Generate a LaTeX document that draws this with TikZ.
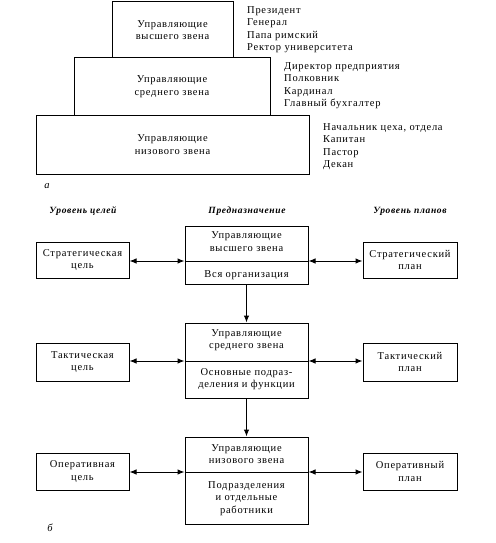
\documentclass[tikz,border=0pt]{standalone}
\usepackage{fontspec}
\setmainfont[LetterSpace=7]{Liberation Serif}
\usetikzlibrary{arrows.meta}
\newcommand{\txtsz}{\fontsize{10.5}{12.5}\selectfont}
\newcommand{\hdsz}{\fontsize{9.5}{11}\selectfont\bfseries\itshape}
\begin{document}
\begin{tikzpicture}[x=1pt,y=-1pt,
  box/.style={draw, line width=1pt, inner sep=0pt, align=center, font=\txtsz},
  txt/.style={inner sep=0pt, align=center, font=\txtsz},
  lst/.style={inner sep=0pt, align=left, font=\txtsz, anchor=north west},
  hdr/.style={inner sep=0pt, font=\hdsz},
  conn/.style={line width=1pt},
  >={Latex[length=7pt,width=5.5pt]}]
\useasboundingbox (0,0) rectangle (495,543);
% ---- part a: pyramid
\node[box, minimum width=121pt, minimum height=56pt] (p1) at (172.5,30) {Управляющие\\высшего звена};
\node[box, minimum width=196pt, minimum height=57pt] (p2) at (172,86.5) {Управляющие\\среднего звена};
\node[box, minimum width=273pt, minimum height=59pt] (p3) at (172.5,144.5) {Управляющие\\низового звена};
\node[lst] (l1) at (247,6) {Президент\\Генерал\\Папа римский\\Ректор университета};
\node[lst] (l2) at (284,62) {Директор предприятия\\Полковник\\Кардинал\\Главный бухгалтер};
\node[lst] (l3) at (323,123) {Начальник цеха, отдела\\Капитан\\Пастор\\Декан};
\node[txt, font=\txtsz\itshape] (la) at (47,186) {а};
% ---- part b
\node[hdr] (h1) at (83,211) {Уровень целей};
\node[hdr] (h2) at (247,211) {Предназначение};
\node[hdr] (h3) at (410,211) {Уровень планов};
% left column
\node[box, minimum width=93pt, minimum height=36pt] (g1) at (82.5,260) {Стратегическая\\цель};
\node[box, minimum width=93pt, minimum height=38pt] (g2) at (82.5,362) {Тактическая\\цель};
\node[box, minimum width=93pt, minimum height=37pt] (g3) at (82.5,471.5) {Оперативная\\цель};
% right column
\node[box, minimum width=94pt, minimum height=36pt] (r1) at (410,260) {Стратегический\\план};
\node[box, minimum width=94pt, minimum height=38pt] (r2) at (410,362) {Тактический\\план};
\node[box, minimum width=94pt, minimum height=37pt] (r3) at (410,471.5) {Оперативный\\план};
% center column
\node[box, minimum width=123pt, minimum height=58pt] (c1) at (246.5,255) {};
\node[box, minimum width=123pt, minimum height=75pt] (c2) at (246.5,360.5) {};
\node[box, minimum width=123pt, minimum height=87pt] (c3) at (246.5,480.5) {};
\coordinate (d1) at (246.5,261);
\coordinate (d2) at (246.5,361);
\coordinate (d3) at (246.5,472);
\draw[conn] (c1.west |- d1) -- (c1.east |- d1);
\draw[conn] (c2.west |- d2) -- (c2.east |- d2);
\draw[conn] (c3.west |- d3) -- (c3.east |- d3);
\node[txt] (t1a) at (246.5,241.5) {Управляющие\\высшего звена};
\node[txt] (t1b) at (246.5,275) {Вся организация};
\node[txt] (t2a) at (246.5,340) {Управляющие\\среднего звена};
\node[txt] (t2b) at (246.5,379) {Основные подраз-\\деления и функции};
\node[txt] (t3a) at (246.5,454) {Управляющие\\низового звена};
\node[txt] (t3b) at (246.5,498.5) {Подразделения\\и отдельные\\работники};
% connectors
\draw[conn,<->] (g1.east |- d1) -- (c1.west |- d1);
\draw[conn,<->] (c1.east |- d1) -- (r1.west |- d1);
\draw[conn,<->] (g2.east |- d2) -- (c2.west |- d2);
\draw[conn,<->] (c2.east |- d2) -- (r2.west |- d2);
\draw[conn,<->] (g3.east |- d3) -- (c3.west |- d3);
\draw[conn,<->] (c3.east |- d3) -- (r3.west |- d3);
\draw[conn,->] (c1.south) -- (c2.north);
\draw[conn,->] (c2.south) -- (c3.north);
\node[txt, font=\txtsz\itshape] (lb) at (50,528) {б};
\end{tikzpicture}
\end{document}
